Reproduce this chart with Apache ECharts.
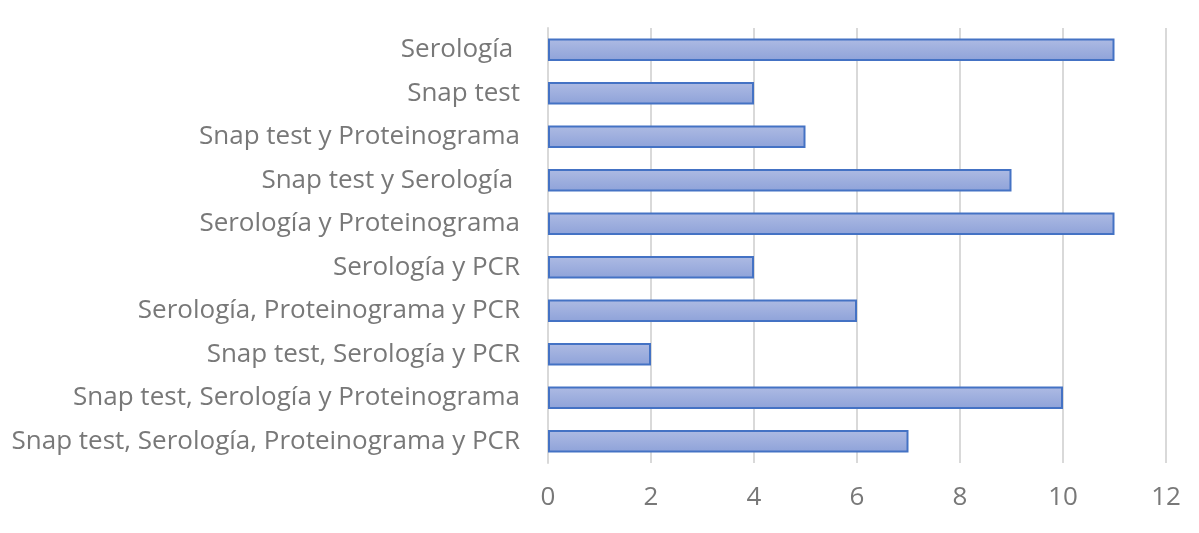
<!DOCTYPE html>
<html><head><meta charset="utf-8">
<script src="https://cdn.jsdelivr.net/npm/echarts@6/dist/echarts.min.js"></script>
<style>html,body{margin:0;padding:0;background:#fff}#c{width:1199px;height:533px}</style>
</head><body><div id="c"></div>
<script>
const categories = ["Serología ", "Snap test", "Snap test y Proteinograma", "Snap test y Serología ", "Serología y Proteinograma", "Serología y PCR", "Serología, Proteinograma y PCR", "Snap test, Serología y PCR", "Snap test, Serología y Proteinograma", "Snap test, Serología, Proteinograma y PCR"];
const values = [11, 4, 5, 9, 11, 4, 6, 2, 10, 7];
const xTicks = [0, 2, 4, 6, 8, 10, 12];

const chart = echarts.init(document.getElementById('c'), null, {renderer: 'canvas'});
chart.setOption({
  animation: false,
  grid: {left: 548, right: 33, top: 28, bottom: 70, containLabel: false},
  xAxis: {
    type: 'value', min: xTicks[0], max: xTicks[xTicks.length - 1], interval: 2,
    axisLine: {show: false}, axisTick: {show: false},
    splitLine: {show: true, lineStyle: {color: '#d9d9d9', width: 2}},
    axisLabel: {color: '#787878', fontSize: 26, fontFamily: 'Open Sans', margin: 22}
  },
  yAxis: {
    type: 'category', data: categories, inverse: true,
    axisLine: {show: true, lineStyle: {color: '#d9d9d9', width: 2}},
    axisTick: {show: false},
    axisLabel: {color: '#787878', fontSize: 26, fontFamily: 'Open Sans', margin: 28}
  },
  series: [{
    type: 'bar', data: values, barWidth: '52%',
    itemStyle: {
      color: new echarts.graphic.LinearGradient(0, 0, 0, 1, [
        {offset: 0, color: '#aebbe3'}, {offset: 1, color: '#8ea2d9'}
      ]),
      borderColor: '#4472c4', borderWidth: 2
    }
  }]
});
</script></body></html>
